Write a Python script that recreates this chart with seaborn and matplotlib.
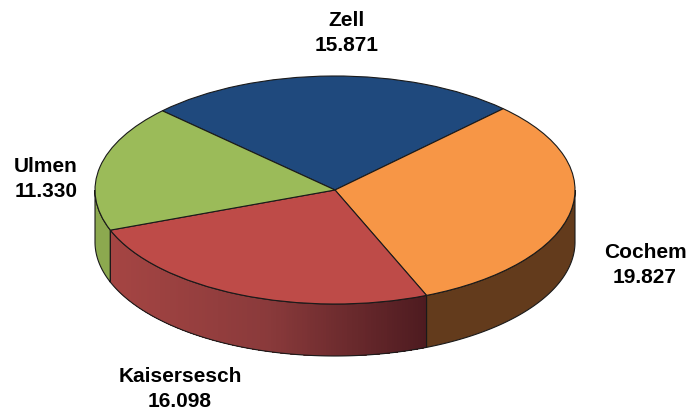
import numpy as np
import matplotlib
matplotlib.use("Agg")
import matplotlib.pyplot as plt
from matplotlib.patches import Polygon
from matplotlib.colors import LinearSegmentedColormap
import seaborn as sns

categories = ["Zell", "Cochem", "Kaisersesch", "Ulmen"]
values = [15871, 19827, 16098, 11330]
value_labels = ["15.871", "19.827", "16.098", "11.330"]
top_colors = ["#1F497D", "#F79646", "#BE4B48", "#9BBB59"]
wall_colors = ["#1F497D", "#633B1C", "#A54543", "#8CA94F"]
wall_mid = "#8A3A3B"
wall_end = "#4E1B20"
label_pos_px = [(347, 33), (645, 265), (180, 389), (46, 179)]

W, H = 691, 412
CX, CY, RX, RY, DEPTH = 335, 190, 240, 114, 52
START = 136
EDGE = "#1a1a1a"

sns.set_theme(style="white")
plt.rcParams["font.family"] = ["Liberation Sans", "DejaVu Sans"]

fig = plt.figure(figsize=(W / 100, H / 100), dpi=100, facecolor="white")
ax = fig.add_axes([(CX - RX) / W, (H - CY - RY) / H, 2 * RX / W, 2 * RY / H])
wedges, _ = ax.pie(values, colors=top_colors, startangle=START, counterclock=False, radius=1,
                   wedgeprops=dict(edgecolor=EDGE, linewidth=0.8, zorder=5))
ax.set_aspect("auto")
ax.set_xlim(-1, 1)
ax.set_ylim(-1, 1)
ax.axis("off")
d = DEPTH / RY


def wall(a0, a1, face, edge=None, z=3):
    t = np.radians(np.linspace(a0, a1, max(int(abs(a1 - a0) * 2), 2)))
    x, y = np.cos(t), np.sin(t)
    pts = np.r_[np.c_[x, y], np.c_[x[::-1], y[::-1] - d]]
    ax.add_patch(Polygon(pts, closed=True, facecolor=face,
                         edgecolor=edge if edge else "none",
                         linewidth=0.8 if edge else 0, zorder=z, clip_on=False))


fracs = np.array(values) / sum(values)
angles = START - np.r_[0, np.cumsum(fracs)] * 360
for i in range(len(values)):
    a0, a1 = min(angles[i], 0), max(angles[i + 1], -180)
    if a0 <= a1:
        continue
    if categories[i] == "Kaisersesch":
        cmap = LinearSegmentedColormap.from_list("rim", [wall_colors[i], wall_mid, wall_end])
        # horizontal gradient: strips are even in x and each runs to the right end, hiding seams
        xs = np.linspace(np.cos(np.radians(a1)), np.cos(np.radians(a0)), 121)
        for k in range(120):
            wall(a0, -np.degrees(np.arccos(xs[k])), cmap((k + 0.5) / 120), z=3)
        wall(a0, a1, "none", edge=EDGE, z=4)
    else:
        wall(a0, a1, wall_colors[i], edge=EDGE, z=3)

for cat, val, (px, py) in zip(categories, value_labels, label_pos_px):
    fig.text(px / W, 1 - py / H, f"{cat}\n{val}", ha="center", va="center",
             fontsize=15, fontweight="bold", color="black", linespacing=1.35)

fig.savefig("out.png", dpi=100, facecolor="white")
